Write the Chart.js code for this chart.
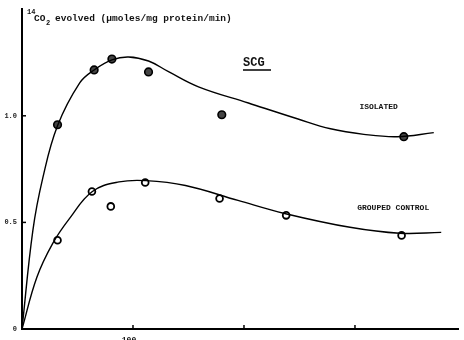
<!DOCTYPE html>
<html>
<head>
<meta charset="utf-8">
<script src="https://cdn.jsdelivr.net/npm/chart.js@4"></script>
<style>
  body { margin: 0; background: #fff; }
</style>
</head>
<body>
<canvas id="myChart" width="464" height="340"></canvas>
<script>
// measured points (time, umoles/mg protein/min)
var isolatedX = [32, 65, 81, 114, 180, 344];
var isolatedY = [0.958, 1.215, 1.266, 1.206, 1.005, 0.902];
var groupedX = [32, 63, 80, 111, 178, 238, 342];
var groupedY = [0.416, 0.645, 0.575, 0.687, 0.612, 0.533, 0.439];

// hand drawn fitted curves
var isoCurveX = [0, 9.8, 18.8, 32, 52, 65, 81, 96, 114, 132, 159, 204, 248, 278, 308, 338, 371];
var isoCurveY = [0, 0.463, 0.71, 0.953, 1.154, 1.215, 1.262, 1.276, 1.257, 1.207, 1.136, 1.06, 0.986, 0.939, 0.913, 0.902, 0.921];
var grpCurveX = [0, 13.4, 27.7, 42.9, 63.4, 87.5, 111.6, 147.3, 194.6, 236.6, 295.5, 340.2, 377.7];
var grpCurveY = [0, 0.243, 0.402, 0.519, 0.645, 0.69, 0.696, 0.673, 0.603, 0.542, 0.477, 0.449, 0.453];

var xTicks = [100, 200, 300];
var xTickLabels = ['100'];
var yTicks = [0.5, 1.0];

function pairs(xs, ys) {
  return xs.map(function (x, i) { return { x: x, y: ys[i] }; });
}

var mono = '"Liberation Mono", "DejaVu Sans Mono", monospace';

var figureText = {
  id: 'figureText',
  afterDraw: function (chart) {
    var c = chart.ctx;
    var xs = chart.scales.x, ys = chart.scales.y;
    var area = chart.chartArea;
    c.save();
    c.strokeStyle = '#000';
    c.lineWidth = 1.5;
    // inward tick marks
    xTicks.forEach(function (v) {
      var px = xs.getPixelForValue(v);
      c.beginPath(); c.moveTo(px, area.bottom); c.lineTo(px, area.bottom - 4); c.stroke();
    });
    yTicks.forEach(function (v) {
      var py = ys.getPixelForValue(v);
      c.beginPath(); c.moveTo(area.left, py); c.lineTo(area.left + 4, py); c.stroke();
    });

    c.fillStyle = '#111';
    // x tick label, mostly cut off by the page edge
    c.font = 'bold 8px ' + mono;
    c.textAlign = 'center';
    c.textBaseline = 'top';
    xTickLabels.forEach(function (t, i) {
      c.fillText(t, xs.getPixelForValue(xTicks[i]) - 4, area.bottom + 7);
    });

    c.textAlign = 'left';
    c.textBaseline = 'alphabetic';
    // y axis title
    c.font = 'bold 7px ' + mono;
    c.fillText('14', area.left + 5, 14);
    c.font = 'bold 9.5px ' + mono;
    c.fillText('CO', area.left + 12, 21);
    c.font = 'bold 7px ' + mono;
    c.fillText('2', area.left + 24, 25);
    c.font = 'bold 9.5px ' + mono;
    c.fillText('evolved (\u00b5moles/mg protein/min)', area.left + 33, 21);

    // panel title
    c.font = 'bold 12px ' + mono;
    c.fillText('SCG', 243, 66);
    c.beginPath(); c.lineWidth = 1.5;
    c.moveTo(243, 70); c.lineTo(271, 70); c.stroke();

    // series labels
    c.font = 'bold 8px ' + mono;
    c.fillText('ISOLATED', xs.getPixelForValue(304), ys.getPixelForValue(1.03));
    c.fillText('GROUPED CONTROL', xs.getPixelForValue(302), ys.getPixelForValue(0.56));
    c.restore();
  }
};

var ctx = document.getElementById('myChart').getContext('2d');
var myChart = new Chart(ctx, {
  type: 'scatter',
  data: {
    datasets: [
      {
        type: 'line',
        data: pairs(isoCurveX, isoCurveY),
        borderColor: '#000',
        borderWidth: 1.4,
        pointRadius: 0,
        tension: 0.4,
        fill: false
      },
      {
        type: 'line',
        data: pairs(grpCurveX, grpCurveY),
        borderColor: '#000',
        borderWidth: 1.4,
        pointRadius: 0,
        tension: 0.4,
        fill: false
      },
      {
        label: 'Isolated',
        data: pairs(isolatedX, isolatedY),
        backgroundColor: '#444',
        borderColor: '#000',
        borderWidth: 1.6,
        pointRadius: 3.8
      },
      {
        label: 'Grouped control',
        data: pairs(groupedX, groupedY),
        backgroundColor: '#fff',
        borderColor: '#000',
        borderWidth: 1.8,
        pointRadius: 3.4
      }
    ]
  },
  options: {
    responsive: false,
    animation: false,
    layout: { padding: { top: 8, right: 2, left: 0, bottom: 0 } },
    plugins: { legend: { display: false }, tooltip: { enabled: false } },
    scales: {
      x: {
        type: 'linear',
        min: 0,
        max: 393,
        afterFit: function (s) { s.height = 11; },
        grid: { display: false, drawTicks: false },
        border: { display: true, color: '#000', width: 2 },
        ticks: { display: false, stepSize: 100 }
      },
      y: {
        min: 0,
        max: 1.5,
        afterFit: function (s) { s.width = 22; },
        grid: { display: false, drawTicks: false },
        border: { display: true, color: '#000', width: 2 },
        ticks: {
          stepSize: 0.5,
          padding: 5,
          color: '#222',
          font: { family: mono, size: 7, weight: 'bold' },
          callback: function (v) {
            if (v === 0) return '0';
            if (yTicks.indexOf(v) >= 0) return v.toFixed(1);
            return '';
          }
        }
      }
    }
  },
  plugins: [figureText]
});
</script>
</body>
</html>
